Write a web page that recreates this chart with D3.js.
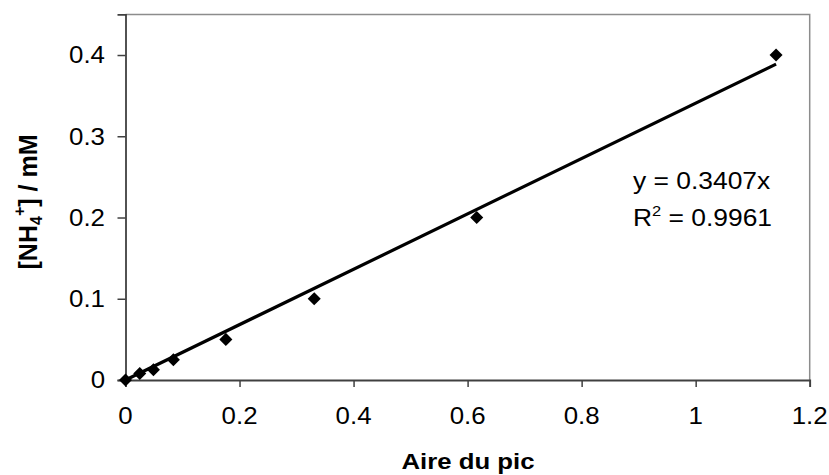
<!DOCTYPE html>
<html>
<head>
<meta charset="utf-8">
<script src="https://cdn.jsdelivr.net/npm/d3@7/dist/d3.min.js"></script>
<style>
  html, body { margin: 0; padding: 0; background: #fff; }
  svg { display: block; }
  text { font-family: "Liberation Sans", Arial, sans-serif; fill: #000; }
</style>
</head>
<body>
<svg id="chart" width="829" height="475"></svg>
<script>
// ---- data ----
const areaValues = [0, 0.025, 0.049, 0.084, 0.176, 0.331, 0.616, 1.141];
const concValues = [0, 0.008, 0.0125, 0.025, 0.05, 0.1, 0.2, 0.4];
const slope = 0.3407;
const rSquared = 0.9961;
const xTickValues = [0, 0.2, 0.4, 0.6, 0.8, 1, 1.2];
const yTickValues = [0, 0.1, 0.2, 0.3, 0.4];
const xTitle = "Aire du pic";
const equationText = "y = " + slope + "x";

// ---- layout ----
const svg = d3.select("#chart");
const plotLeft = 125.5, plotRight = 809.7, plotTop = 14.4, plotBottom = 380;
const stretch = 1.1, fs = 23.5;

const x = d3.scaleLinear().domain([0, 1.2]).range([plotLeft, plotRight]);
const y = d3.scaleLinear().domain([0, 0.45]).range([plotBottom, plotTop]);

// border (top & right lighter)
svg.append("path")
  .attr("d", `M${plotLeft},${y(0.45)}H${plotRight}V${plotBottom}`)
  .attr("fill", "none").attr("stroke", "#8c8c8c").attr("stroke-width", 1.5);

// axes
const xAxis = d3.axisBottom(x).tickValues(xTickValues).tickSize(7).tickFormat("");
const yAxis = d3.axisLeft(y).tickValues(yTickValues).tickSize(8).tickFormat("");
const gx = svg.append("g").attr("transform", `translate(0,${plotBottom})`).call(xAxis);
const gy = svg.append("g").attr("transform", `translate(${plotLeft},0)`).call(yAxis);
[gx, gy].forEach(g => {
  g.select(".domain").attr("stroke", "#404040").attr("stroke-width", 1.8);
  g.selectAll(".tick line").attr("stroke", "#404040").attr("stroke-width", 1.5);
});

// tick labels
xTickValues.forEach(v => {
  svg.append("g").attr("transform", `translate(${x(v)},424) scale(${stretch},1)`)
    .append("text").attr("text-anchor", "middle").attr("font-size", fs).text(String(v));
});
yTickValues.forEach(v => {
  svg.append("g").attr("transform", `translate(105,${y(v) + 8.3}) scale(${stretch},1)`)
    .append("text").attr("text-anchor", "end").attr("font-size", fs).text(String(v));
});

// trend line
const xMax = d3.max(areaValues);
svg.append("line")
  .attr("x1", x(0)).attr("y1", y(0))
  .attr("x2", x(xMax)).attr("y2", y(slope * xMax))
  .attr("stroke", "#000").attr("stroke-width", 3.2);

// markers (diamonds)
const sym = d3.symbol().type(d3.symbolSquare).size(85);
svg.append("g").selectAll("path").data(areaValues).join("path")
  .attr("d", sym)
  .attr("transform", (d, i) => `translate(${x(d)},${y(concValues[i])}) rotate(45)`)
  .attr("fill", "#000");

// equation
svg.append("g").attr("transform", `translate(633,189) scale(${stretch},1)`)
  .append("text").attr("font-size", 24).text(equationText);
const r2 = svg.append("g").attr("transform", `translate(633,226) scale(${stretch},1)`)
  .append("text").attr("font-size", 24);
r2.append("tspan").text("R");
r2.append("tspan").attr("font-size", 15).attr("dy", -10).text("2");
r2.append("tspan").attr("dy", 10).text(" = " + rSquared);

// x title
svg.append("g").attr("transform", `translate(468,469) scale(1.12,1)`)
  .append("text").attr("text-anchor", "middle").attr("font-size", 23)
  .attr("font-weight", "bold").text(xTitle);

// y title
const yt = svg.append("g").attr("transform", `translate(37,202) rotate(-90)`)
  .append("text").attr("text-anchor", "middle").attr("font-size", 25).attr("font-weight", "bold");
yt.append("tspan").text("[NH");
yt.append("tspan").attr("font-size", 16).attr("dy", 5).text("4");
yt.append("tspan").attr("font-size", 16).attr("dy", -17).text("+");
yt.append("tspan").attr("dy", 12).text("] / mM");
</script>
</body>
</html>
